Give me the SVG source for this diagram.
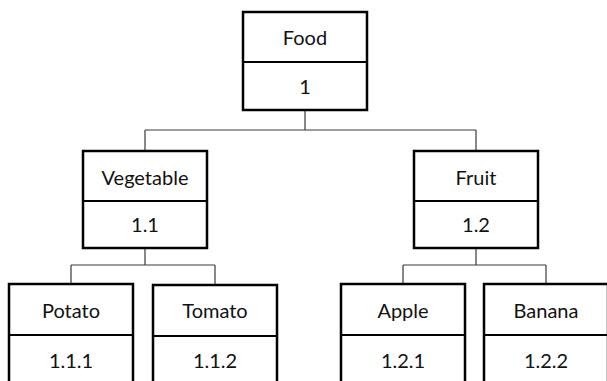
<svg xmlns="http://www.w3.org/2000/svg" width="607" height="381" viewBox="0 0 607 381">
  <style>
    .box { fill: #ffffff; stroke: #000000; stroke-width: 2.5; }
    .div { stroke: #000000; stroke-width: 2.2; }
    .lbl { font-family: Lato, "Open Sans", "Liberation Sans", sans-serif; font-size: 20px; fill: #111111; text-anchor: middle; }
    .link { fill: none; stroke: #3a3a3a; stroke-width: 1.2; }
  </style>
  <rect width="607" height="381" fill="#ffffff"/>

  <!-- tree connectors -->
  <g id="connectors">
    <path class="link" d="M305 110 V130 M145 130 H476 M145 130 V151 M476 130 V151"/>
    <path class="link" d="M145 248 V265 M71 265 H215 M71 265 V284 M215 265 V285"/>
    <path class="link" d="M476 248 V265 M403 265 H546 M403 265 V284 M546 265 V284"/>
  </g>

  <g id="food">
    <rect class="box" x="243" y="12" width="124" height="98"/>
    <line class="div" x1="243" y1="62" x2="367" y2="62"/>
    <text class="lbl" x="305" y="45">Food</text>
    <text class="lbl" x="305" y="94">1</text>
  </g>

  <g id="vegetable">
    <rect class="box" x="83" y="151" width="124" height="97"/>
    <line class="div" x1="83" y1="201" x2="207" y2="201"/>
    <text class="lbl" x="145" y="185">Vegetable</text>
    <text class="lbl" x="145" y="232">1.1</text>
  </g>

  <g id="fruit">
    <rect class="box" x="414" y="151" width="124" height="97"/>
    <line class="div" x1="414" y1="201" x2="538" y2="201"/>
    <text class="lbl" x="476" y="185">Fruit</text>
    <text class="lbl" x="476" y="232">1.2</text>
  </g>

  <g id="potato">
    <rect class="box" x="9" y="284" width="124" height="110"/>
    <line class="div" x1="9" y1="335" x2="133" y2="335"/>
    <text class="lbl" x="71" y="318">Potato</text>
    <text class="lbl" x="71" y="368">1.1.1</text>
  </g>

  <g id="tomato">
    <rect class="box" x="153" y="285" width="124" height="110" stroke-width="3"/>
    <line class="div" x1="153" y1="336" x2="277" y2="336" stroke-width="3"/>
    <text class="lbl" x="215" y="318">Tomato</text>
    <text class="lbl" x="215" y="368">1.1.2</text>
  </g>

  <g id="apple">
    <rect class="box" x="341" y="284" width="124" height="110"/>
    <line class="div" x1="341" y1="335" x2="465" y2="335"/>
    <text class="lbl" x="403" y="318">Apple</text>
    <text class="lbl" x="403" y="368">1.2.1</text>
  </g>

  <g id="banana">
    <rect class="box" x="484" y="284" width="124" height="110"/>
    <line class="div" x1="484" y1="335" x2="608" y2="335"/>
    <text class="lbl" x="546" y="318">Banana</text>
    <text class="lbl" x="546" y="368">1.2.2</text>
  </g>
</svg>
